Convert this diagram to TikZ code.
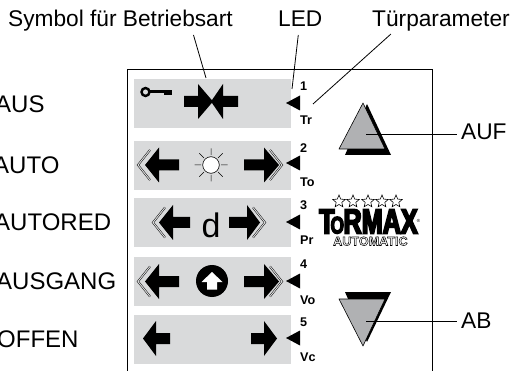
\documentclass[tikz,border=0pt]{standalone}
\usepackage{fontspec}
\setmainfont{Liberation Sans}
\newfontfamily\logofont{Liberation Sans}[BoldFeatures={FakeStretch=.72,FakeBold=5}]
\usetikzlibrary{shapes.geometric, positioning, calc}
\definecolor{greybox}{HTML}{D9DADB}
\definecolor{greykey}{HTML}{B0B1B3}

% tip x, base x, end x, centre y
\newcommand{\blockarrow}[4]{\fill (#1,#4) -- (#2,#4-17.5) -- (#2,#4-5.5) -- (#3,#4-5.5) -- (#3,#4+5.5) -- (#2,#4+5.5) -- (#2,#4+17.5) -- cycle;}
% tip x, end x, centre y
\newcommand{\chevron}[3]{\draw[chevronline] (#2,#3-15) -- (#1,#3) -- (#2,#3+15);}

\begin{document}
\begin{tikzpicture}[
    x=1pt, y=-1pt,
    every node/.style={inner sep=0pt},
    biglabel/.style={anchor=base west, font=\fontsize{22.7}{26}\selectfont},
    modelabel/.style={anchor=base west, font=\fontsize{24}{26}\selectfont},
    ledlabel/.style={anchor=base west, font=\fontsize{12.6}{14}\selectfont\bfseries},
    rowbox/.style={fill=greybox, minimum width=157pt, minimum height=49pt, anchor=north west},
    ledmark/.style={fill=black},
    leader/.style={line width=.8pt},
    chevronline/.style={double=greybox, double distance=1pt, line width=.45pt, miter limit=10},
    logostar/.style={star, star points=5, star point ratio=2.2, draw=black, fill=white, line width=.6pt, minimum size=13pt},
    updown/.style={fill=greykey, draw=black, line width=.6pt, line join=round}
]
    \useasboundingbox (0,0) rectangle (519,371);

    % panel, open at the bottom
    \draw[line width=.9pt] (127,371) -- (127,69) -- (432,69) -- (432,371);

    % grey rows
    \foreach \name/\ypos in {one/79, two/141, three/198, four/257, five/315}
        \node (row\name) [rowbox] at (134,\ypos) {};

    % LEDs
    \foreach \ypos in {103, 163, 222, 281, 338}
        \fill[ledmark] (286,\ypos) -- (300,\ypos-7.5) -- (300,\ypos+7.5) -- cycle;

    % row numbers and parameters
    \foreach \txt/\ypos in {1/91, 2/153, 3/210, 4/269, 5/326, Tr/125, To/187, Pr/245, Vo/304, Vc/361}
        \node (led\txt) [ledlabel] at (300,\ypos) {\txt};

    % left labels
    \foreach \txt/\xpos/\ypos in {AUS/-5/113, AUTO/-7/174, AUTORED/-6/231, AUSGANG/-4/289, OFFEN/-3/347}
        \node (mode\txt) [modelabel] at (\xpos,\ypos) {\txt};

    % top labels
    \node (symbol) [biglabel] at (8,27) {Symbol für Betriebsart};
    \node (led) [biglabel] at (278,26.5) {LED};
    \node (door) [biglabel] at (372,26.5) {Türparameter};

    \coordinate (symbolend) at (206,78);
    \coordinate (ledend) at (292,89);
    \coordinate (doorend) at (313,104);
    \draw[leader] ($(symbol.base)+(73,8)$) -- (symbolend);
    \draw[leader] ($(led.base)+(-2,8.5)$) -- (ledend);
    \draw[leader] ($(door.base)+(-50,7.5)$) -- (doorend);

    % row 1: key and symbol
    \draw[line width=2.4pt] (145.5,92) circle (4);
    \fill (150,90.2) rectangle (172,93);
    \fill (164,90.2) rectangle (172,95.5);
    \blockarrow{213}{198}{184}{101.5}
    \blockarrow{211}{223}{238}{101.5}

    % row 2
    \chevron{138}{150}{165}
    \blockarrow{145}{159}{179}{165}
    \draw[line width=.5pt] \foreach \ang in {0,45,...,315} {(211,165)++(\ang:10) -- ++(\ang:6.5)};
    \draw[line width=.6pt, fill=white] (211,165) circle (8.3);
    \blockarrow{279}{264}{244}{165}
    \chevron{282}{270}{165}

    % row 3
    \chevron{153}{165}{222.5}
    \blockarrow{159}{173}{190}{222.5}
    \node (rowd) [anchor=base, font=\fontsize{34}{34}\selectfont] at (211,238) {d};
    \blockarrow{260}{247}{229}{222.5}
    \chevron{265}{253}{222.5}

    % row 4
    \chevron{138}{150}{281.5}
    \blockarrow{145}{159}{179}{281.5}
    \fill (212,281) circle (16);
    \fill[white] (212,272) -- (222.5,282) -- (217,282) -- (217,289.5) -- (207,289.5) -- (207,282) -- (201.5,282) -- cycle;
    \blockarrow{279}{264}{244}{281.5}
    \chevron{282}{270}{281.5}

    % row 5
    \blockarrow{143}{156}{170}{338.5}
    \blockarrow{277}{264}{251}{338.5}

    % logo
    \foreach \xpos in {339, 353, 368, 382, 396}
        \node[logostar] at (\xpos,201.5) {};
    \node (logo) [anchor=base west, font=\logofont\bfseries\fontsize{35}{35}\selectfont] at (319,233.5) {T\kern-4pt{\fontsize{24}{24}\selectfont O}\kern-.5pt RMAX};
    \node (reg) [anchor=center, font=\fontsize{4.5}{5}\selectfont] at (418.5,221) {®};
    \node (auto) [anchor=base west, font=\fontsize{12.6}{14}\selectfont\bfseries] at (333,245.5) {\special{pdf:code 1 Tr 0.5 w}AUTOMATIC\special{pdf:code 0 Tr}};

    % keys
    \fill (345,155) -- (367,104) -- (391,155) -- cycle;
    \path[updown] (339,149) -- (363,103) -- (385,149) -- cycle;
    \fill (345,292) -- (391,292) -- (367,342) -- cycle;
    \path[updown] (339,299) -- (385,299) -- (363,346) -- cycle;

    \node (up) [biglabel] at (461,140) {AUF};
    \node (down) [biglabel] at (461,328) {AB};
    \coordinate (upend) at (366,134);
    \coordinate (downend) at (366,321);
    \draw[leader] (upend) -- ($(up.base west)+(-4,-6)$);
    \draw[leader] (downend) -- ($(down.base west)+(-4,-7)$);
\end{tikzpicture}
\end{document}
